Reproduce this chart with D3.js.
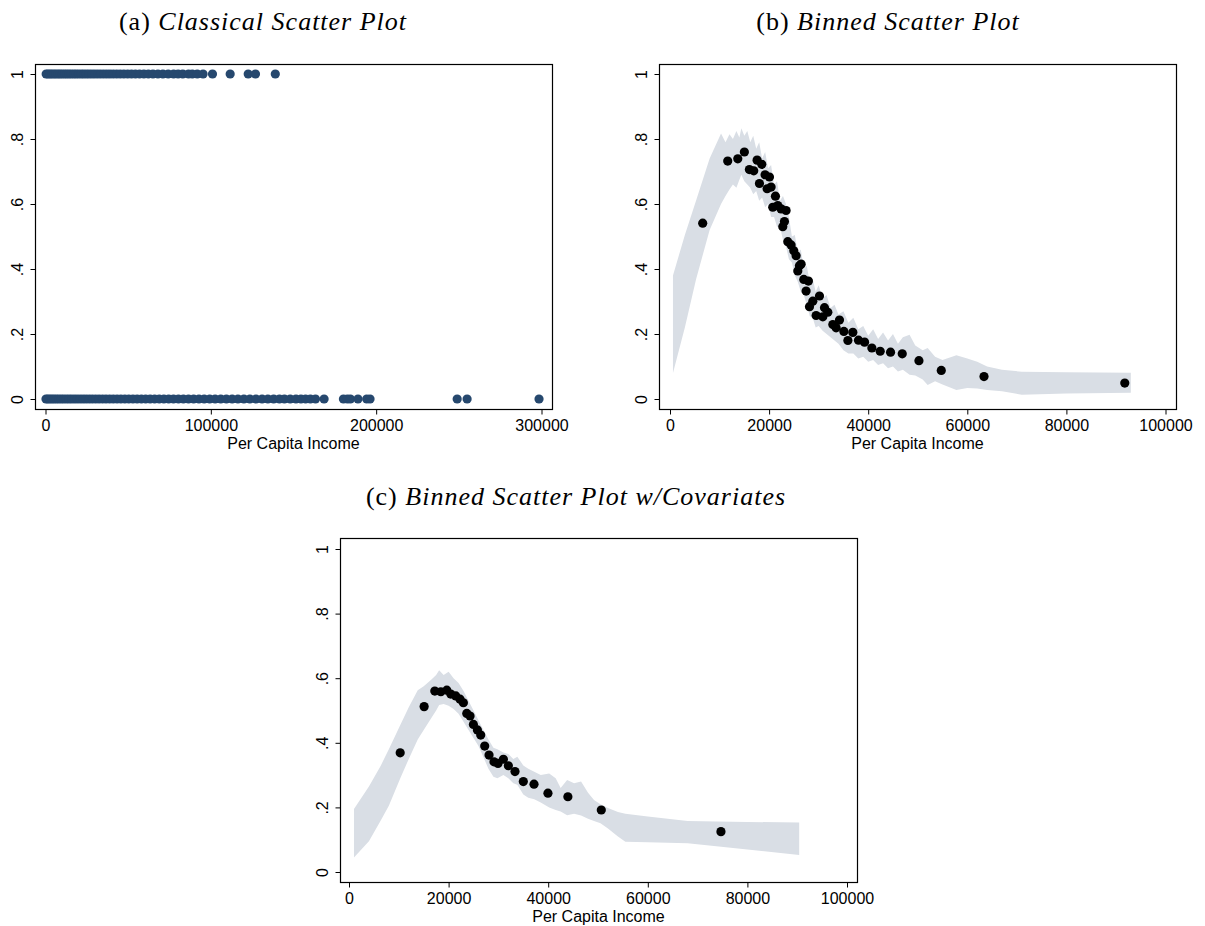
<!DOCTYPE html>
<html>
<head>
<meta charset="utf-8">
<script src="https://cdnjs.cloudflare.com/ajax/libs/d3/7.8.5/d3.min.js"></script>
<style>
  body { margin: 0; background: #fff; }
  .tick text { font-family: "Liberation Sans", Arial, sans-serif; font-size: 16px; fill: #000; }
  .xlabel { font-family: "Liberation Sans", Arial, sans-serif; font-size: 16px; }
  .title { font-family: "Liberation Serif", "DejaVu Serif", serif; font-size: 26px; letter-spacing: 1px; }
</style>
</head>
<body>
<svg id="chart" width="1205" height="926"></svg>
<script>

// ---- tick values shared by all panels
const yTicks = [0, 0.2, 0.4, 0.6, 0.8, 1]
const yTickLabels = ["0", ".2", ".4", ".6", ".8", "1"]
const xTicksA = [0, 100000, 200000, 300000]
const xTicksB = [0, 20000, 40000, 60000, 80000, 100000]

// ---- panel (a): raw observations, outcome 1 or 0
const incomeOnes = [400, 1500, 2700, 3800, 5100, 6300, 7600, 8800, 10100, 11500, 12800, 14200, 15600, 17100,
  18500, 20000, 21600, 23100, 24700, 26300, 28000, 29700, 31500, 33300, 35200, 37100, 39000, 41000, 43100,
  45200, 47400, 49700, 52000, 54400, 56900, 59500, 62200, 65000, 68000, 71000, 74200, 77500, 80200, 83000,
  86500, 88800, 91800, 95300, 101000, 111700, 122600, 127000, 139000]
const incomeZeros = [300, 1400, 2600, 3900, 5200, 6600, 8000, 9500, 11000, 12600, 14200, 15800, 17500, 19200,
  21000, 22800, 24600, 26500, 28400, 30400, 32400, 34500, 36600, 38800, 41000, 43300, 45600, 48000, 50400,
  52900, 55400, 58000, 60600, 63300, 66000, 68800, 71600, 74500, 77400, 80400, 83400, 86500, 89600, 92800,
  96000, 99300, 102600, 106000, 109400, 112900, 116400, 120000, 123600, 127300, 131000, 134500, 138000,
  141500, 144500, 148000, 151500, 154500, 157300, 160200, 163300, 168500, 180200, 182600, 184400, 189000,
  194300, 196300, 249000, 255000, 298500]

// ---- panel (b): binned means
const binIncomeB = [6600, 11650, 13680, 15010, 16020, 16900, 17580, 18050, 18520, 19190, 19600, 20070, 20400,
  20740, 21280, 21750, 22420, 22760, 23100, 23430, 23770, 24440, 24980, 25450, 25790, 26120, 26460, 27000,
  27470, 27940, 28150, 28820, 29490, 30170, 30840, 31180, 31850, 32860, 33530, 34200, 35090, 35900, 36900,
  38040, 39260, 40740, 42420, 44510, 46870, 50240, 54750, 63370, 91780]
const binShareB = [0.541, 0.732, 0.739, 0.760, 0.706, 0.702, 0.735, 0.663, 0.722, 0.690, 0.647, 0.683, 0.652,
  0.590, 0.624, 0.595, 0.585, 0.530, 0.546, 0.580, 0.484, 0.474, 0.456, 0.441, 0.394, 0.410, 0.415, 0.368,
  0.332, 0.363, 0.284, 0.301, 0.257, 0.317, 0.253, 0.281, 0.267, 0.229, 0.219, 0.243, 0.208, 0.180, 0.205,
  0.181, 0.175, 0.157, 0.147, 0.144, 0.139, 0.118, 0.088, 0.069, 0.049]

// confidence band (b)
const bandIncomeB = [600, 3000, 5250, 8000, 10300, 11200, 12000, 12700, 13400, 14000, 14400, 15000, 15600, 16200,
  16800, 17400, 18000, 18600, 19200, 19800, 20400, 21000, 21600, 22200, 22800, 23400, 24000, 24600, 25200, 25800,
  26400, 27000, 27600, 28200, 28800, 29400, 30000, 30800, 31600, 32400, 33200, 34000, 35000, 36000, 37000, 38000,
  39000, 40000, 41000, 42000, 43000, 44000, 45000, 46000, 47000, 48350, 49500, 51000, 52000, 53500, 55000, 57800,
  60000, 62000, 64000, 67000, 71000, 80000, 93000]
const bandHighB = [0.380, 0.505, 0.610, 0.740, 0.817, 0.790, 0.815, 0.800, 0.825, 0.805, 0.833, 0.810, 0.825, 0.790,
  0.810, 0.770, 0.790, 0.740, 0.760, 0.710, 0.720, 0.660, 0.670, 0.610, 0.625, 0.600, 0.560, 0.500, 0.505, 0.450,
  0.460, 0.400, 0.410, 0.360, 0.370, 0.330, 0.350, 0.310, 0.320, 0.280, 0.290, 0.260, 0.270, 0.235, 0.250, 0.215,
  0.225, 0.195, 0.215, 0.185, 0.205, 0.180, 0.200, 0.170, 0.190, 0.198, 0.165, 0.150, 0.157, 0.130, 0.120, 0.135,
  0.125, 0.115, 0.100, 0.090, 0.084, 0.082, 0.081]
const bandLowB = [0.080, 0.220, 0.368, 0.520, 0.600, 0.625, 0.645, 0.660, 0.650, 0.675, 0.690, 0.670, 0.660, 0.650,
  0.630, 0.640, 0.610, 0.620, 0.590, 0.600, 0.560, 0.560, 0.530, 0.530, 0.490, 0.470, 0.430, 0.420, 0.380, 0.360,
  0.330, 0.320, 0.290, 0.255, 0.250, 0.220, 0.225, 0.210, 0.200, 0.190, 0.180, 0.170, 0.150, 0.140, 0.140, 0.125,
  0.130, 0.115, 0.120, 0.105, 0.110, 0.095, 0.100, 0.085, 0.090, 0.075, 0.072, 0.060, 0.043, 0.055, 0.045, 0.028,
  0.034, 0.032, 0.028, 0.024, 0.013, 0.017, 0.019]

// ---- panel (c): binned means with covariates
const binIncomeC = [10280, 15090, 17230, 18440, 19640, 20440, 21440, 22300, 22970, 23650, 24310, 24980, 25780,
  26450, 27250, 28120, 29120, 29920, 31000, 32000, 33330, 35000, 37150, 39950, 43950, 50660, 74690]
const binShareC = [0.369, 0.512, 0.560, 0.558, 0.563, 0.551, 0.545, 0.535, 0.524, 0.491, 0.483, 0.457, 0.440,
  0.424, 0.390, 0.362, 0.341, 0.336, 0.349, 0.329, 0.311, 0.280, 0.272, 0.244, 0.233, 0.192, 0.125]

const bandIncomeC = [1000, 4000, 6400, 8000, 10300, 12000, 13800, 15000, 16500, 17500, 18100, 19000, 20000, 21000,
  22000, 23000, 24000, 25000, 26000, 27000, 28000, 29000, 29800, 31000, 32000, 33000, 33800, 35000, 36000, 37200,
  38500, 40200, 41500, 42500, 43800, 45200, 46600, 48000, 49200, 50500, 52000, 54000, 55500, 60000, 68000, 80000, 90400]
const bandHighC = [0.195, 0.265, 0.330, 0.380, 0.455, 0.510, 0.563, 0.575, 0.595, 0.610, 0.625, 0.610, 0.620, 0.600,
  0.585, 0.560, 0.530, 0.500, 0.470, 0.440, 0.410, 0.385, 0.380, 0.370, 0.365, 0.350, 0.357, 0.330, 0.320, 0.310,
  0.300, 0.305, 0.290, 0.260, 0.285, 0.275, 0.280, 0.245, 0.223, 0.210, 0.198, 0.186, 0.180, 0.172, 0.158, 0.155, 0.153]
const bandLowC = [0.045, 0.095, 0.160, 0.205, 0.290, 0.350, 0.410, 0.440, 0.476, 0.500, 0.517, 0.520, 0.515, 0.505,
  0.490, 0.465, 0.440, 0.415, 0.390, 0.355, 0.320, 0.295, 0.290, 0.300, 0.290, 0.275, 0.270, 0.240, 0.230, 0.225,
  0.215, 0.200, 0.192, 0.187, 0.176, 0.180, 0.175, 0.165, 0.158, 0.151, 0.135, 0.110, 0.094, 0.092, 0.089, 0.070, 0.053]


const svg = d3.select("#chart")

function drawPanel(p) {
  let g = svg.append("g")

  let scaleX = d3.scaleLinear().domain(p.xDomain).range(p.xRange)
  let scaleY = d3.scaleLinear().domain([0, 1]).range(p.yRange)

  // title
  let title = svg.append("text")
    .attr("class", "title")
    .attr("x", p.titleX)
    .attr("y", p.titleY)
    .attr("text-anchor", "middle")
  title.append("tspan").text(p.tag + " ")
  title.append("tspan").attr("font-style", "italic").text(p.title)

  // band
  if (p.band) {
    let area = d3.area()
      .x(d => scaleX(d.x))
      .y0(d => scaleY(d.lo))
      .y1(d => scaleY(d.hi))
    g.append("path")
      .datum(p.band)
      .attr("d", area)
      .attr("fill", "#d9dee5")
  }

  // points
  g.append("g")
    .selectAll("circle")
    .data(p.points)
    .enter()
    .append("circle")
    .attr("cx", d => scaleX(d.x))
    .attr("cy", d => scaleY(d.y))
    .attr("r", 4.6)
    .attr("fill", p.color)

  // frame
  g.append("rect")
    .attr("x", p.frame[0] + 0.5)
    .attr("y", p.frame[2] + 0.5)
    .attr("width", p.frame[1] - p.frame[0])
    .attr("height", p.frame[3] - p.frame[2])
    .attr("fill", "none")
    .attr("stroke", "#000")
    .attr("stroke-width", 1.2)

  // y axis
  let yAxis = g.append("g")
    .attr("transform", "translate(" + (p.frame[0] + 0.5) + ",0)")
    .call(d3.axisLeft(scaleY)
      .tickValues(yTicks)
      .tickSize(5)
      .tickSizeOuter(0)
      .tickFormat((d, i) => yTickLabels[i]))
  yAxis.select(".domain").remove()
  yAxis.selectAll(".tick line").attr("stroke", "#000")
  yAxis.selectAll(".tick text")
    .attr("x", 0)
    .attr("y", -13)
    .attr("dy", 0)
    .attr("transform", "rotate(-90)")
    .style("text-anchor", "middle")

  // x axis
  let xAxis = g.append("g")
    .attr("transform", "translate(0," + (p.frame[3] + 0.5) + ")")
    .call(d3.axisBottom(scaleX)
      .tickValues(p.xTicks)
      .tickSize(5)
      .tickSizeOuter(0)
      .tickPadding(5)
      .tickFormat(d3.format("d")))
  xAxis.select(".domain").remove()
  xAxis.selectAll(".tick line").attr("stroke", "#000")

  g.append("text")
    .attr("class", "xlabel")
    .attr("x", (p.frame[0] + p.frame[1]) / 2)
    .attr("y", p.frame[3] + 40)
    .attr("text-anchor", "middle")
    .text("Per Capita Income")
}

let pointsA = incomeOnes.map(v => ({x: v, y: 1}))
  .concat(incomeZeros.map(v => ({x: v, y: 0})))

drawPanel({
  tag: "(a)", title: "Classical Scatter Plot", titleX: 263, titleY: 30,
  frame: [35, 552, 64, 409],
  xDomain: [0, 300000], xRange: [45.5, 541.5], yRange: [399, 74],
  xTicks: xTicksA,
  points: pointsA,
  color: "#26486e"
})

drawPanel({
  tag: "(b)", title: "Binned Scatter Plot", titleX: 888, titleY: 30,
  frame: [659, 1176, 64, 409],
  xDomain: [0, 100000], xRange: [670, 1165.5], yRange: [399, 74],
  xTicks: xTicksB,
  points: binIncomeB.map((v, i) => ({x: v, y: binShareB[i]})),
  band: bandIncomeB.map((v, i) => ({x: v, hi: bandHighB[i], lo: bandLowB[i]})),
  color: "#000"
})

drawPanel({
  tag: "(c)", title: "Binned Scatter Plot w/Covariates", titleX: 576, titleY: 505,
  frame: [340, 857, 538, 882],
  xDomain: [0, 100000], xRange: [349, 847], yRange: [872, 549],
  xTicks: xTicksB,
  points: binIncomeC.map((v, i) => ({x: v, y: binShareC[i]})),
  band: bandIncomeC.map((v, i) => ({x: v, hi: bandHighC[i], lo: bandLowC[i]})),
  color: "#000"
})

</script>
</body>
</html>
